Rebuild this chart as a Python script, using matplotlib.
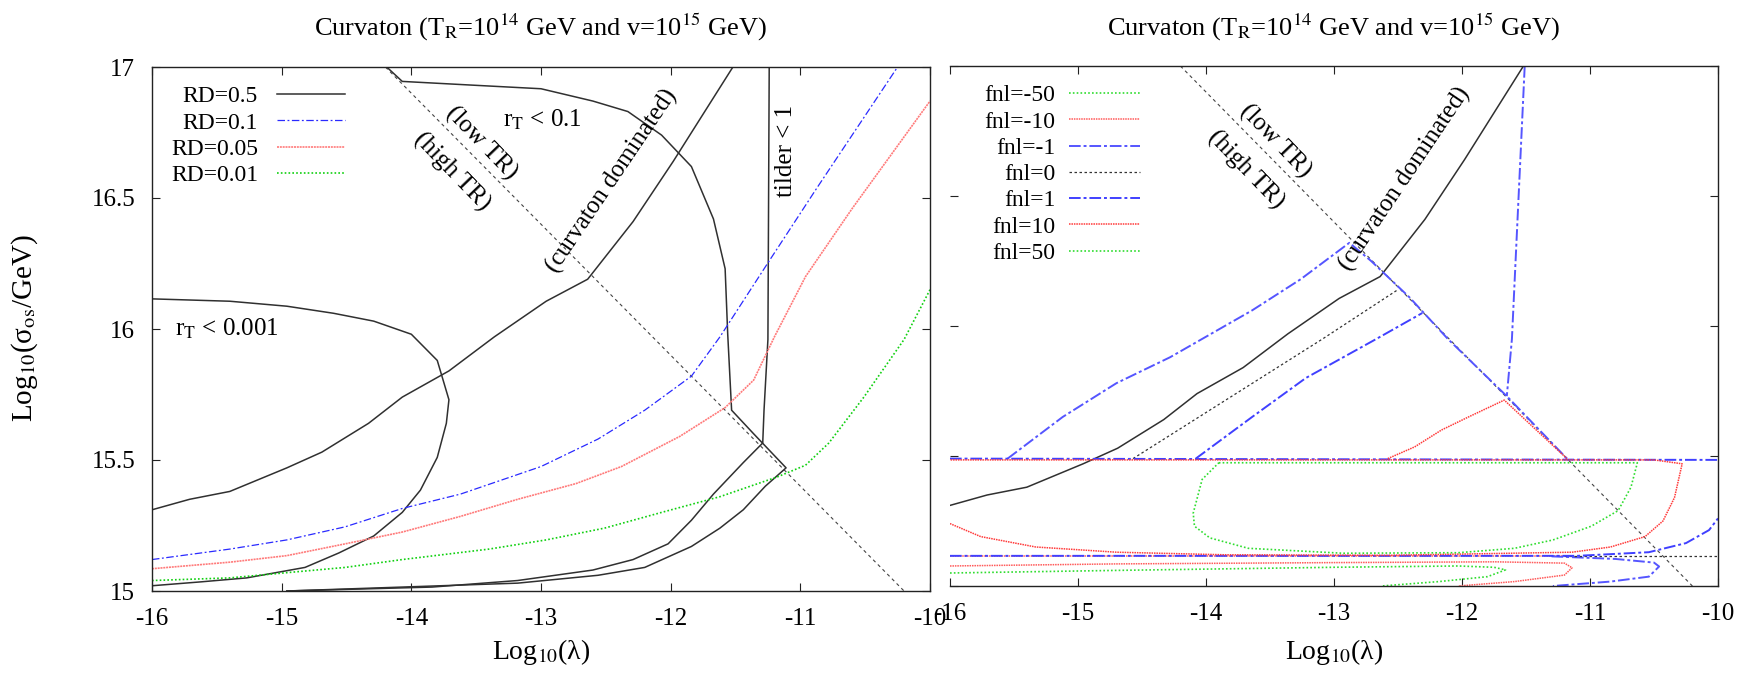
import matplotlib
matplotlib.use("Agg")
import matplotlib.pyplot as plt

plt.rcParams["font.family"] = ["Liberation Serif", "DejaVu Serif"]
plt.rcParams["mathtext.fontset"] = "stix"

# ---------------- data ----------------
X_TICKS = [-16, -15, -14, -13, -12, -11, -10]
Y_TICKS = [15, 15.5, 16, 16.5, 17]
Y_TICK_LABELS = ["15", "15.5", "16", "16.5", "17"]

# low TR / high TR boundary (both panels)
DIAG_X = [-14.2, -10.2]
DIAG_Y = [17.0, 15.0]

# curvaton dominated boundary (both panels)
CURV_X = [-16, -15.71, -15.4, -14.96, -14.69, -14.33, -14.07, -13.71, -13.36,
          -12.96, -12.64, -12.29, -11.98, -11.52]
CURV_Y = [15.31, 15.35, 15.38, 15.47, 15.53, 15.64, 15.74, 15.84, 15.97,
          16.106, 16.19, 16.41, 16.64, 17.0]

# left panel: RD=0.5 contours
RT01_X = [-14.19, -14.07, -13.5, -13.0, -12.6, -12.33, -12.07, -11.84, -11.67,
          -11.58, -11.56, -11.53, -11.36, -11.11, -11.27, -11.44, -11.62, -11.84,
          -12.2, -12.56, -13.18, -14.07, -14.96]
RT01_Y = [17.0, 16.945, 16.93, 16.917, 16.87, 16.83, 16.74, 16.62, 16.42,
          16.23, 15.98, 15.69, 15.60, 15.47, 15.40, 15.31, 15.24, 15.17,
          15.09, 15.06, 15.03, 15.015, 15.0]
TILDER_X = [-11.24, -11.25, -11.28, -11.29, -11.44, -11.67, -11.84, -12.02,
            -12.29, -12.6, -13.18, -13.84, -14.96]
TILDER_Y = [17.0, 15.96, 15.69, 15.565, 15.49, 15.37, 15.27, 15.18,
            15.12, 15.08, 15.04, 15.015, 15.0]
RT0001_X = [-16, -15.4, -14.96, -14.6, -14.29, -14.0, -13.8, -13.71, -13.73,
            -13.8, -13.93, -14.07, -14.29, -14.56, -14.82, -15.27, -15.62, -16]
RT0001_Y = [16.115, 16.106, 16.087, 16.06, 16.03, 15.98, 15.88, 15.73, 15.64,
            15.51, 15.385, 15.30, 15.21, 15.145, 15.09, 15.05, 15.035, 15.02]

RD01_X = [-16, -15.4, -14.96, -14.51, -14.07, -13.62, -13.0, -12.56, -12.2,
          -11.84, -11.62, -11.24, -10.87, -10.25]
RD01_Y = [15.12, 15.16, 15.195, 15.245, 15.315, 15.37, 15.475, 15.58, 15.69,
          15.82, 15.97, 16.26, 16.54, 17.0]
RD005_X = [-16, -15.4, -14.96, -14.51, -14.07, -13.62, -13.18, -12.73, -12.38,
           -11.93, -11.58, -11.36, -11.2, -10.96, -10.6, -10.0]
RD005_Y = [15.085, 15.11, 15.135, 15.18, 15.225, 15.285, 15.35, 15.41, 15.475,
           15.59, 15.70, 15.805, 15.97, 16.2, 16.46, 16.87]
RD001_X = [-16, -15.4, -14.96, -14.51, -14.07, -13.4, -12.96, -12.51, -12.07,
           -11.62, -11.18, -10.96, -10.78, -10.51, -10.2, -10.0]
RD001_Y = [15.04, 15.05, 15.07, 15.09, 15.12, 15.16, 15.195, 15.24, 15.30,
           15.36, 15.435, 15.48, 15.565, 15.74, 15.96, 16.15]

RD_LABELS = ["RD=0.5", "RD=0.1", "RD=0.05", "RD=0.01"]

# right panel: fnl contours, each a list of (x, y) pieces
FNL_M50 = [([-16, -14.7, -13.0, -12.03, -11.75, -11.66, -11.8, -12.18, -12.63],
            [15.05, 15.06, 15.072, 15.077, 15.072, 15.062, 15.036, 15.017, 15.0])]
FNL_M10 = [([-16, -14.7, -13.0, -11.74, -11.2, -11.14, -11.2, -11.59, -12.03],
            [15.077, 15.085, 15.09, 15.093, 15.088, 15.07, 15.042, 15.017, 15.0]),
           ([-16, -11.2], [15.116, 15.116])]
FNL_M1 = [([-15.55, -15.12, -14.7, -14.28, -13.64, -13.26, -12.88, -12.71,
            -12.41, -12.11, -11.65, -11.18],
           [15.49, 15.65, 15.78, 15.88, 16.06, 16.18, 16.32, 16.25,
            16.11, 15.95, 15.73, 15.49]),
          ([-11.51, -11.61, -11.65], [17.0, 15.95, 15.73]),
          ([-11.3, -10.8, -10.5, -10.46, -10.54, -10.84, -11.29],
           [15.114, 15.104, 15.09, 15.075, 15.036, 15.017, 15.0])]
FNL_0 = [([-14.57, -13.09, -12.5], [15.49, 15.95, 16.14]),
         ([-11.2, -10.0], [15.116, 15.116])]
FNL_P1 = [([-14.08, -13.64, -13.22, -12.67, -12.31],
           [15.49, 15.65, 15.80, 15.95, 16.05]),
          ([-16, -10.0], [15.49, 15.485]),
          ([-16, -11.1, -10.54, -10.25, -10.07, -10.0],
           [15.116, 15.116, 15.13, 15.165, 15.215, 15.26])]
FNL_P10 = [([-12.58, -12.37, -12.16, -11.95, -11.67, -11.18],
            [15.49, 15.535, 15.6, 15.65, 15.715, 15.49]),
           ([-16, -15.76, -15.33, -14.7, -13.85, -12.58, -11.14, -10.84,
             -10.57, -10.43, -10.34, -10.28, -10.5, -16],
            [15.24, 15.19, 15.15, 15.13, 15.12, 15.118, 15.13, 15.15,
             15.19, 15.25, 15.34, 15.47, 15.485, 15.485])]
FNL_P50 = [([-13.9, -10.63, -10.68, -10.78, -10.99, -11.29, -11.59, -12.03,
             -12.93, -13.67, -13.97, -14.09, -14.1, -14.03, -13.9],
            [15.474, 15.474, 15.38, 15.29, 15.23, 15.177, 15.145, 15.128,
             15.126, 15.145, 15.185, 15.23, 15.28, 15.41, 15.474])]

FNL_LABELS = ["fnl=-50", "fnl=-10", "fnl=-1", "fnl=0", "fnl=1", "fnl=10", "fnl=50"]
FNL_SERIES = [FNL_M50, FNL_M10, FNL_M1, FNL_0, FNL_P1, FNL_P10, FNL_P50]

# ---------------- styles ----------------
BLACK = "#303030"
DIAG_STYLE = dict(color="#444444", lw=0.8, ls=(0, (3, 3)))
RD_STYLES = [
    dict(color=BLACK, lw=1.1, ls="-"),
    dict(color="#2a2aff", lw=0.9, ls=(0, (6, 2, 1.5, 2))),
    dict(color="#ff7a7a", lw=1.2, ls=(0, (1.2, 0.5))),
    dict(color="#10d010", lw=1.2, ls=(0, (1, 1.3))),
]
FNL_STYLES = [
    dict(color="#30dd30", lw=1.2, ls=(0, (1, 1.3))),
    dict(color="#ff5a5a", lw=1.1, ls=(0, (1, 0.6))),
    dict(color="#5555ff", lw=1.4, ls=(0, (6, 1.5, 1.5, 1.5))),
    dict(color="#333333", lw=0.9, ls=(0, (2, 2))),
    dict(color="#4040ff", lw=1.4, ls=(0, (6, 1.5, 1.5, 1.5))),
    dict(color="#ff3a3a", lw=1.1, ls=(0, (1, 0.6))),
    dict(color="#30dd30", lw=1.2, ls=(0, (1, 1.3))),
]

TITLE = r"Curvaton (T$_\mathrm{R}$=10$^{14}$ GeV and v=10$^{15}$ GeV)"
XLABEL = r"Log$_{10}$(λ)"
YLABEL = r"Log$_{10}$(σ$_\mathrm{os}$/GeV)"

FS = 18


def style_axes(ax, show_ylabels):
    ax.set_xlim(-16, -10)
    ax.set_ylim(15, 17)
    ax.set_xticks(X_TICKS)
    ax.set_xticklabels([str(t) for t in X_TICKS])
    ax.set_yticks(Y_TICKS)
    if show_ylabels:
        ax.set_yticklabels(Y_TICK_LABELS)
    else:
        ax.set_yticklabels([])
    ax.tick_params(direction="in", length=6, width=0.8, top=True, right=True,
                   labelsize=FS, pad=12, colors="#222222", labelcolor="black")
    for sp in ax.spines.values():
        sp.set_linewidth(1.0)
        sp.set_color("#222222")


def annotate_tr(ax):
    ax.text(-13.46, 16.71, "(low TR)", rotation=-46, fontsize=FS,
            ha="center", va="center")
    ax.text(-13.69, 16.60, "(high TR)", rotation=-46, fontsize=FS,
            ha="center", va="center")
    ax.text(-12.45, 16.565, "(curvaton dominated)", rotation=56, fontsize=FS,
            ha="center", va="center")


fig = plt.figure(figsize=(17.5, 6.74), dpi=100)
ax1 = fig.add_axes([152 / 1750, 83 / 674, 778 / 1750, 524 / 674])
ax2 = fig.add_axes([950 / 1750, 88 / 674, 768 / 1750, 520 / 674])

# ---------------- left panel ----------------
ax1.plot(DIAG_X, DIAG_Y, **DIAG_STYLE)
h_rd05, = ax1.plot(RT01_X, RT01_Y, **RD_STYLES[0])
ax1.plot(TILDER_X, TILDER_Y, **RD_STYLES[0])
ax1.plot(RT0001_X, RT0001_Y, **RD_STYLES[0])
ax1.plot(CURV_X, CURV_Y, **RD_STYLES[0])
h_rd01, = ax1.plot(RD01_X, RD01_Y, **RD_STYLES[1])
h_rd005, = ax1.plot(RD005_X, RD005_Y, **RD_STYLES[2])
h_rd001, = ax1.plot(RD001_X, RD001_Y, **RD_STYLES[3])

style_axes(ax1, True)
annotate_tr(ax1)
ax1.text(-12.99, 16.80, r"r$_\mathrm{T}$ < 0.1", fontsize=FS, ha="center", va="center")
ax1.text(-11.11, 16.68, "tilder < 1", rotation=90, fontsize=FS, ha="center", va="center")
ax1.text(-15.82, 16.0, r"r$_\mathrm{T}$ < 0.001", fontsize=FS, ha="left", va="center")

ax1.legend([h_rd05, h_rd01, h_rd005, h_rd001], RD_LABELS, loc="upper left",
           bbox_to_anchor=(0.0, 1.0), borderaxespad=0.3, borderpad=0.5,
           frameon=False, markerfirst=False, handlelength=2.9,
           handletextpad=0.8, labelspacing=0.2, fontsize=17)

# ---------------- right panel ----------------
ax2.plot(DIAG_X, DIAG_Y, **DIAG_STYLE)
ax2.plot(CURV_X, CURV_Y, color=BLACK, lw=1.1)
fnl_handles = []
for pieces, st in zip(FNL_SERIES, FNL_STYLES):
    h = None
    for px, py in pieces:
        line, = ax2.plot(px, py, **st)
        if h is None:
            h = line
    fnl_handles.append(h)

style_axes(ax2, False)
ax2.spines["left"].set_visible(False)
annotate_tr(ax2)

ax2.legend(fnl_handles, FNL_LABELS, loc="upper left",
           bbox_to_anchor=(0.02, 1.0), borderaxespad=0.3, borderpad=0.5,
           frameon=False, markerfirst=False, handlelength=3.0,
           handletextpad=0.6, labelspacing=0.2, fontsize=17)

# ---------------- titles & labels ----------------
for ax in (ax1, ax2):
    pos = ax.get_position()
    cx = (pos.x0 + pos.x1) / 2
    fig.text(cx, 1 - 27 / 674, TITLE, fontsize=19, ha="center", va="center")
    fig.text(cx, 1 - 652 / 674, XLABEL, fontsize=20, ha="center", va="center")
fig.text(25 / 1750, 1 - 328 / 674, YLABEL, fontsize=21, rotation=90,
         ha="center", va="center")

fig.savefig("out.png", dpi=100)
